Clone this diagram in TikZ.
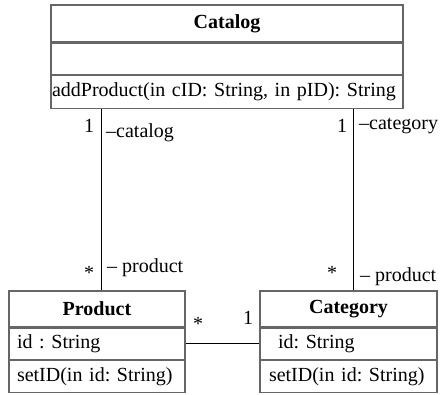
\documentclass[tikz,border=0pt]{standalone}
\usepackage{fontspec}
\setmainfont{Liberation Serif}
\frenchspacing
\usetikzlibrary{positioning}

\begin{document}
\begin{tikzpicture}[x=1pt,y=-1pt,node distance=0pt,
    every node/.style={font=\fontsize{20}{24}\selectfont},
    class name/.style={draw=black!60,line width=1.3pt,minimum height=37pt,
      font=\fontsize{20}{24}\selectfont\bfseries},
    class part/.style={draw=black!60,line width=1.3pt,minimum height=31pt,
      inner xsep=8pt,inner ysep=0pt,align=left},
    assoc/.style={draw=black,line width=0.9pt},
    role/.style={inner sep=0pt,anchor=west}]

  \useasboundingbox (0,0) rectangle (442,394);

  % classes
  \node[class name,minimum width=352pt] (catalog) at (227,23.5) {Catalog};
  \node[class part,text width=350pt,inner xsep=1pt,below=of catalog] (catalogattr) {};
  \node[class part,text width=350pt,inner xsep=1pt,minimum height=33pt,below=of catalogattr] (catalogop)
    {addProduct(in cID: String, in pID): String};

  \node[class name,minimum width=176pt,minimum height=36pt] (product) at (97,309) {Product};
  \node[class part,text width=160pt,below=of product] (productattr) {id : String};
  \node[class part,text width=160pt,minimum height=32pt,below=of productattr] (productop)
    {setID(in id: String)};

  \node[class name,minimum width=177pt,minimum height=36pt] (category) at (348.5,309) {Category};
  \node[class part,text width=159pt,inner xsep=9pt,below=of category] (categoryattr)
    {\hspace*{9pt}id: String};
  \node[class part,text width=159pt,inner xsep=9pt,minimum height=32pt,below=of categoryattr] (categoryop)
    {setID(in id: String)};

  % associations
  \draw[assoc] ([xshift=4pt]product.north) -- ([xshift=4pt]product.north |- catalogop.south);
  \draw[assoc] ([xshift=4.5pt]category.north) -- ([xshift=4.5pt]category.north |- catalogop.south);
  \draw[assoc] (productattr.east) -- (categoryattr.west);

  % multiplicities and roles
  \node at (89,126) {1};
  \node[role] at (106,133) {--catalog};
  \node at (342,126) {1};
  \node[role] at (359,126) {--category};
  \node at (89,273) {*};
  \node[role] at (107,268) {-- product};
  \node at (332,273) {*};
  \node[role] at (360,277) {-- product};
  \node at (198,324) {*};
  \node at (248,318) {1};
\end{tikzpicture}
\end{document}
